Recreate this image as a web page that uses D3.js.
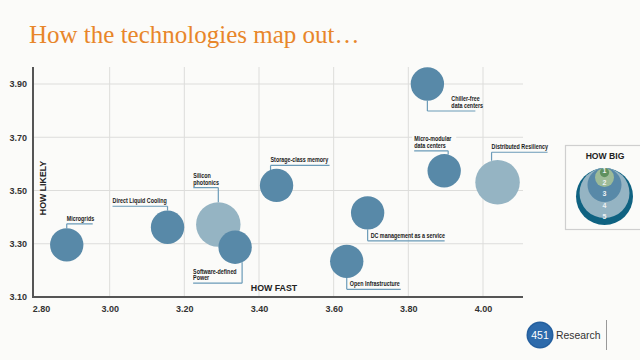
<!DOCTYPE html>
<html>
<head>
<meta charset="utf-8">
<script src="https://cdn.jsdelivr.net/npm/d3@7/dist/d3.min.js"></script>
<style>
  html, body { margin: 0; padding: 0; background: #fbfbf9; }
  svg { display: block; }
</style>
</head>
<body>
<script>
// ---- data ----
const technologies = [
  "Microgrids", "Direct Liquid Cooling", "Silicon photonics", "Software-defined Power",
  "Storage-class memory", "DC management as a service", "Open Infrastructure",
  "Chiller-free data centers", "Micro-modular data centers", "Distributed Resiliency"
];
const howFast   = [2.885, 3.155, 3.291, 3.336, 3.447, 3.691, 3.635, 3.851, 3.896, 4.039];
const howLikely = [3.296, 3.362, 3.372, 3.287, 3.519, 3.416, 3.234, 3.900, 3.574, 3.531];
const howBig    = [3, 3, 4, 3, 3, 3, 3, 3, 3, 4];
const labelLines = [
  ["Microgrids"], ["Direct Liquid Cooling"], ["Silicon", "photonics"], ["Software-defined", "Power"],
  ["Storage-class memory"], ["DC management as a service"], ["Open Infrastructure"],
  ["Chiller-free", "data centers"], ["Micro-modular", "data centers"], ["Distributed Resiliency"]
];
const xTicks = [2.8, 3.0, 3.2, 3.4, 3.6, 3.8, 4.0];
const yTicks = [3.1, 3.3, 3.5, 3.7, 3.9];
const legendSizes = [1, 2, 3, 4, 5];

// ---- layout / style ----
const W = 640, H = 360;
const bg = "#fbfbf9";
const sizeColor = { 1: "#5f905f", 2: "#9dbb98", 3: "#5889a8", 4: "#95b4c3", 5: "#0f6281" };
const leaderColor = "#6b9bb8";
const labelFont = "'Liberation Sans',Arial,sans-serif";
const narrow = 0.84;

// leader geometry (relative to bubble centre): line y, line x0/x1, vertical x, text x
const leaders = {
  "Microgrids": { hy: -21, hx0: 0, hx1: 26, vx: 0, tx: 0 },
  "Direct Liquid Cooling": { hy: -21, hx0: -55, hx1: 0, vx: 0, tx: -55 },
  "Silicon photonics": { hy: -37, hx0: -25, hx1: 0, vx: 0, tx: -25 },
  "Software-defined Power": { hy: 36, hx0: -42, hx1: 7, vx: 7, tx: -42 },
  "Storage-class memory": { hy: -20, hx0: -6, hx1: 53, vx: -6, tx: -6 },
  "DC management as a service": { hy: 28, hx0: 0, hx1: 77, vx: 0, tx: 3 },
  "Open Infrastructure": { hy: 28, hx0: 0, hx1: 54, vx: 0, tx: 3 },
  "Chiller-free data centers": { hy: 27, hx0: 0, hx1: 48, vx: 0, tx: 24 },
  "Micro-modular data centers": { hy: -20, hx0: -30, hx1: 4, vx: 4, tx: -30, bg: true },
  "Distributed Resiliency": { hy: -30, hx0: -6, hx1: 50, vx: -6, tx: -6 }
};

const svg = d3.select("body").append("svg").attr("width", W).attr("height", H);
svg.append("rect").attr("width", W).attr("height", H).attr("fill", bg);

// title
svg.append("text").attr("x", 29).attr("y", 43)
  .attr("font-family", "'Liberation Serif','Times New Roman',Times,serif")
  .attr("font-size", 25).attr("fill", "#e8862a")
  .text("How the technologies map out…");

const x = d3.scaleLinear().domain([2.8, 4.0]).range([35, 483]);
const y = d3.scaleLinear().domain([3.1, 3.9]).range([297, 84]);
const r = d3.scaleLinear().domain([0, 5]).range([0, 27.8]);
const plotLeft = 33, plotRight = 523, plotTop = 67, plotBottom = 297;

// grid
const grid = svg.append("g");
grid.selectAll("line.v").data(xTicks.slice(1)).join("line")
  .attr("x1", d => x(d)).attr("x2", d => x(d))
  .attr("y1", plotTop).attr("y2", plotBottom)
  .attr("stroke", "#dddddb").attr("stroke-width", 1);
grid.selectAll("line.h").data(yTicks.slice(1)).join("line")
  .attr("x1", plotLeft).attr("x2", plotRight)
  .attr("y1", d => y(d)).attr("y2", d => y(d))
  .attr("stroke", "#dddddb").attr("stroke-width", 1);

// axes
const xAxis = svg.append("g").attr("transform", `translate(0,${plotBottom})`)
  .call(d3.axisBottom(x).tickValues(xTicks).tickFormat(d3.format(".2f")).tickSize(0).tickPadding(9));
xAxis.select(".domain").remove();
xAxis.selectAll("text").attr("font-family", "'Liberation Sans',Arial,sans-serif")
  .attr("font-size", 9).attr("font-weight", "bold").attr("fill", "#333");
xAxis.selectAll(".tick").filter(d => d === 2.8).select("text").attr("dx", 6);

const yAxis = svg.append("g").attr("transform", `translate(${plotLeft},0)`)
  .call(d3.axisLeft(y).tickValues(yTicks).tickFormat(d3.format(".2f")).tickSize(0).tickPadding(6));
yAxis.select(".domain").remove();
yAxis.selectAll("text").attr("font-family", "'Liberation Sans',Arial,sans-serif")
  .attr("font-size", 9).attr("font-weight", "bold").attr("fill", "#333");

svg.append("line").attr("x1", plotLeft).attr("x2", plotLeft).attr("y1", plotTop).attr("y2", plotBottom + 1)
  .attr("stroke", "#555").attr("stroke-width", 2);
svg.append("line").attr("x1", plotLeft - 1).attr("x2", plotRight).attr("y1", plotBottom).attr("y2", plotBottom)
  .attr("stroke", "#555").attr("stroke-width", 2);

// axis titles
svg.append("text").attr("transform", "translate(46,188) rotate(-90)")
  .attr("text-anchor", "middle").attr("font-family", "'Liberation Sans',Arial,sans-serif")
  .attr("font-size", 8.8).attr("font-weight", "bold").attr("fill", "#222").text("HOW LIKELY");
svg.append("text").attr("x", 274).attr("y", 291)
  .attr("text-anchor", "middle").attr("font-family", "'Liberation Sans',Arial,sans-serif")
  .attr("font-size", 8.8).attr("font-weight", "bold").attr("fill", "#222").text("HOW FAST");

// data records
const data = technologies.map((name, i) => ({
  name, fx: howFast[i], ly: howLikely[i], size: howBig[i], lines: labelLines[i]
}));

// leaders + labels
const lab = svg.append("g");
data.forEach(d => {
  const L = leaders[d.name];
  const cx = x(d.fx), cy = y(d.ly), rr = r(d.size);
  const ly = cy + L.hy;
  const edge = Math.sqrt(Math.max(rr * rr - L.vx * L.vx, 0));
  const ey = L.hy < 0 ? cy - edge : cy + edge;
  const lh = 6.7;
  const n = d.lines.length;
  if (L.bg) {
    lab.append("rect").attr("x", cx + L.tx - 2).attr("y", ly - 3 - lh * (n - 1) - 6)
      .attr("width", 44).attr("height", lh * n + 3).attr("fill", bg);
  }
  lab.append("path")
    .attr("d", `M${cx + L.hx0},${ly}H${cx + L.hx1}M${cx + L.vx},${ly}V${ey}`)
    .attr("fill", "none").attr("stroke", leaderColor).attr("stroke-width", 1.2);
  d.lines.forEach((t, k) => {
    const tn = lab.append("text").attr("x", cx + L.tx).attr("y", ly - 3 - lh * (n - 1 - k))
      .attr("font-family", labelFont).attr("font-size", 6.4).attr("font-weight", "bold")
      .attr("fill", "#1a1a1a").text(t);
    const len = tn.node().getComputedTextLength();
    tn.attr("textLength", len * narrow).attr("lengthAdjust", "spacingAndGlyphs");
  });
});

// bubbles
svg.append("g").selectAll("circle").data(data).join("circle")
  .attr("cx", d => x(d.fx)).attr("cy", d => y(d.ly)).attr("r", d => r(d.size))
  .attr("fill", d => sizeColor[d.size]);

// legend
const lg = svg.append("g");
lg.append("rect").attr("x", 565.5).attr("y", 145.5).attr("width", 90).attr("height", 84)
  .attr("fill", "none").attr("stroke", "#cfcfcf").attr("stroke-width", 1.2);
lg.append("text").attr("x", 605).attr("y", 159).attr("text-anchor", "middle")
  .attr("font-family", "'Liberation Sans',Arial,sans-serif").attr("font-size", 8.6)
  .attr("font-weight", "bold").attr("fill", "#222").text("HOW BIG");
const lr = d3.scaleLinear().domain([1, 2, 3, 4, 5]).range([4.6, 9.5, 17, 25, 28.5]);
const legTop = 168;
lg.selectAll("circle").data(legendSizes.slice().reverse()).join("circle")
  .attr("cx", 604.5).attr("cy", d => legTop + lr(d)).attr("r", d => lr(d))
  .attr("fill", d => sizeColor[d]);
lg.selectAll("text.n").data(legendSizes).join("text").attr("class", "n")
  .attr("x", 604.5).attr("y", (d, i) => 173 + i * 11.5).attr("text-anchor", "middle")
  .attr("font-family", "'Liberation Sans',Arial,sans-serif").attr("font-size", 7)
  .attr("font-weight", "bold").attr("fill", "#eef2f4").text(d => d);

// logo
const logo = svg.append("g");
logo.append("circle").attr("cx", 540).attr("cy", 335).attr("r", 13.5).attr("fill", "#245f9e");
logo.append("circle").attr("cx", 540).attr("cy", 335).attr("r", 12).attr("fill", "#2d6aab");
logo.append("text").attr("x", 540).attr("y", 339).attr("text-anchor", "middle")
  .attr("font-family", "'Liberation Sans',Arial,sans-serif").attr("font-size", 10.5)
  .attr("fill", "#fff").text("451");
logo.append("text").attr("x", 556).attr("y", 339)
  .attr("font-family", "'Liberation Sans',Arial,sans-serif").attr("font-size", 10.4)
  .attr("fill", "#333").text("Research");
logo.append("line").attr("x1", 606.5).attr("x2", 606.5).attr("y1", 320).attr("y2", 350)
  .attr("stroke", "#999").attr("stroke-width", 1);
</script>
</body>
</html>
